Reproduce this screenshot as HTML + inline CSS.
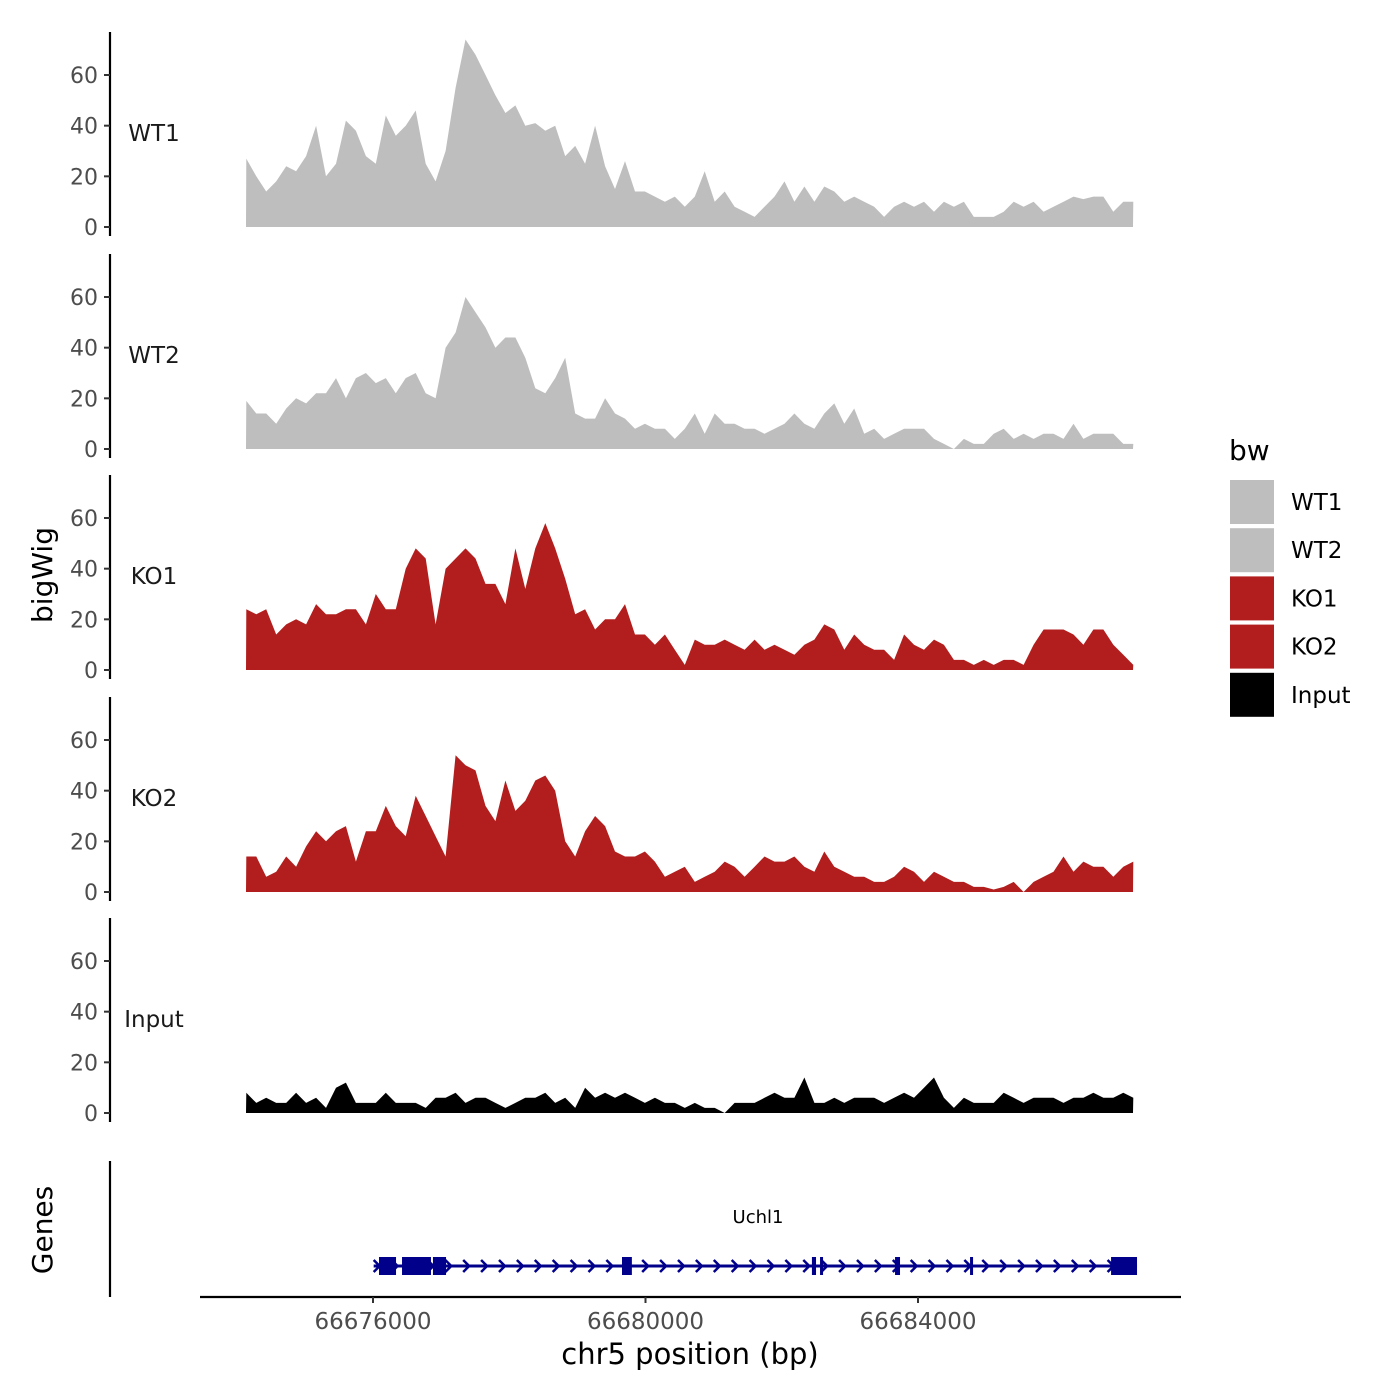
<!DOCTYPE html>
<html><head><meta charset="utf-8"><style>
body{margin:0;background:#fff;}
svg{display:block;font-family:"DejaVu Sans","Liberation Sans",sans-serif;}
</style></head><body>
<svg id="chart" width="1400" height="1400" viewBox="0 0 1400 1400"></svg>
<script>
const trackNames = ["WT1","WT2","KO1","KO2","Input"];
const trackColors = ["#bebebe","#bebebe","#b21e1e","#b21e1e","#000000"];
const regionStart = 66674140, regionEnd = 66687160;
const wt1 = [27,20,14,18,24,22,28,40,20,25,42,38,28,25,44,36,40,46,25,18,30,55,74,68,60,52,45,48,40,41,38,40,28,32,25,40,24,15,26,14,14,12,10,12,8,12,22,10,14,8,6,4,8,12,18,10,16,10,16,14,10,12,10,8,4,8,10,8,10,6,10,8,10,4,4,4,6,10,8,10,6,8,10,12,11,12,12,6,10,10];
const wt2 = [19,14,14,10,16,20,18,22,22,28,20,28,30,26,28,22,28,30,22,20,40,46,60,54,48,40,44,44,36,24,22,28,36,14,12,12,20,14,12,8,10,8,8,4,8,14,6,14,10,10,8,8,6,8,10,14,10,8,14,18,10,16,6,8,4,6,8,8,8,4,2,0,4,2,2,6,8,4,6,4,6,6,4,10,4,6,6,6,2,2];
const ko1 = [24,22,24,14,18,20,18,26,22,22,24,24,18,30,24,24,40,48,44,18,40,44,48,44,34,34,26,48,32,48,58,48,36,22,24,16,20,20,26,14,14,10,14,8,2,12,10,10,12,10,8,12,8,10,8,6,10,12,18,16,8,14,10,8,8,4,14,10,8,12,10,4,4,2,4,2,4,4,2,10,16,16,16,14,10,16,16,10,6,2];
const ko2 = [14,14,6,8,14,10,18,24,20,24,26,12,24,24,34,26,22,38,30,22,14,54,50,48,34,28,44,32,36,44,46,40,20,14,24,30,26,16,14,14,16,12,6,8,10,4,6,8,12,10,6,10,14,12,12,14,10,8,16,10,8,6,6,4,4,6,10,8,4,8,6,4,4,2,2,1,2,4,0,4,6,8,14,8,12,10,10,6,10,12];
const inputSig = [8,4,6,4,4,8,4,6,2,10,12,4,4,4,8,4,4,4,2,6,6,8,4,6,6,4,2,4,6,6,8,4,6,2,10,6,8,6,8,6,4,6,4,4,2,4,2,2,0,4,4,4,6,8,6,6,14,4,4,6,4,6,6,6,4,6,8,6,10,14,6,2,6,4,4,4,8,6,4,6,6,6,4,6,6,8,6,6,8,6];
const yTicks = [0,20,40,60];
const xTicks = [66676000,66680000,66684000];
const xTickLabels = ["66676000","66680000","66684000"];
const geneName = "Uchl1";
const geneStart = 66676010, geneEnd = 66687215;
const exonStarts = [66676088,66676426,66676880,66679655,66682443,66682562,66683663,66684764,66686834];
const exonEnds   = [66676338,66676851,66677072,66679800,66682503,66682606,66683736,66684808,66687215];
const series = [wt1,wt2,ko1,ko2,inputSig];

const svg = document.getElementById('chart');
const NS = "http://www.w3.org/2000/svg";
function mk(tag, attrs, parent){const e=document.createElementNS(NS,tag);for(const k in attrs)e.setAttribute(k,attrs[k]);(parent||svg).appendChild(e);return e;}
const x = bp => 373 + (bp-66676000)*272.5/4000;
const dataX0 = 246, dataX1 = 1133;
const pxPerUnit = 152/60;
const zeroYs = [227,449,670,892,1113];

series.forEach((vals,t)=>{
  const z = zeroYs[t];
  const y = v => z - v*pxPerUnit;
  const g = mk('g',{});
  
  
  const n = vals.length;
  let d = `M${dataX0},${z}`;
  vals.forEach((v,i)=>{ const bp = regionStart + i*(regionEnd-regionStart)/(n-1); d += ` L${x(bp).toFixed(1)},${y(v).toFixed(1)}`; });
  d += ` L${dataX1},${z} Z`;
  const p = mk('path',{d:d,fill:trackColors[t]},g);
  
  
  const ax = mk('line',{x1:110,x2:110,y1:z-195,y2:z+9,stroke:'#000','stroke-width':2.2},g);
  
  
  yTicks.forEach(tv=>{
    mk('line',{x1:104,x2:110,y1:y(tv),y2:y(tv),stroke:'#333','stroke-width':2},g);
    const tl = mk('text',{x:98,y:y(tv)+8,'text-anchor':'end','font-size':22,fill:'#4d4d4d'},g);
    tl.textContent = tv;
    
    
  });
  const lb = mk('text',{x:154,y:z-94+8,'text-anchor':'middle','font-size':23,fill:'#1a1a1a'},g);
  lb.textContent = trackNames[t];
  
  
});

const yt = mk('text',{x:0,y:0,transform:'translate(52,575) rotate(-90)','text-anchor':'middle','font-size':28,fill:'#000'});
yt.textContent='bigWig';



const gt = mk('g',{});


mk('line',{x1:110,x2:110,y1:1161,y2:1297,stroke:'#000','stroke-width':2.2},gt);
const gtt = mk('text',{x:0,y:0,transform:'translate(52,1230) rotate(-90)','text-anchor':'middle','font-size':28,fill:'#000'},gt);
gtt.textContent='Genes';


const gy = 1266;
mk('line',{x1:x(geneStart),x2:x(geneEnd),y1:gy,y2:gy,stroke:'#00008b','stroke-width':3},gt);
for(let ax=x(geneStart)+3; ax<x(geneEnd)-5; ax+=17.9){
  mk('polyline',{points:`${ax-3},${gy-6} ${ax+3},${gy} ${ax-3},${gy+6}`,fill:'none',stroke:'#00008b','stroke-width':2.5},gt);
}
exonStarts.forEach((s,i)=>{
  const r = mk('rect',{x:x(s),y:gy-9,width:Math.max(3,x(exonEnds[i])-x(s)),height:18,fill:'#00008b'},gt);
  
  
});
const gn = mk('text',{x:758,y:1223,'text-anchor':'middle','font-size':18,fill:'#000'},gt);
gn.textContent=geneName;



const xa = mk('g',{});


mk('line',{x1:200,x2:1181,y1:1297,y2:1297,stroke:'#000','stroke-width':2.2},xa);
xTicks.forEach((tv,i)=>{
  mk('line',{x1:x(tv),x2:x(tv),y1:1297,y2:1303,stroke:'#333','stroke-width':2},xa);
  const tl = mk('text',{x:x(tv),y:1329,'text-anchor':'middle','font-size':23,fill:'#4d4d4d'},xa);
  tl.textContent = xTickLabels[i];
  
  
});
const xt = mk('text',{x:690,y:1364,'text-anchor':'middle','font-size':29,fill:'#000'},xa);
xt.textContent='chr5 position (bp)';



const lg = mk('g',{});


const ltt = mk('text',{x:1229,y:460,'font-size':28,fill:'#000'},lg);
ltt.textContent='bw';


trackNames.forEach((nm,i)=>{
  const e = mk('g',{},lg);
  
  
  mk('rect',{x:1230,y:480+i*48.2,width:44,height:44,fill:trackColors[i]},e);
  const t = mk('text',{x:1291,y:480+i*48.2+30,'font-size':23,fill:'#000'},e);
  t.textContent = nm;
});
</script>
</body></html>
